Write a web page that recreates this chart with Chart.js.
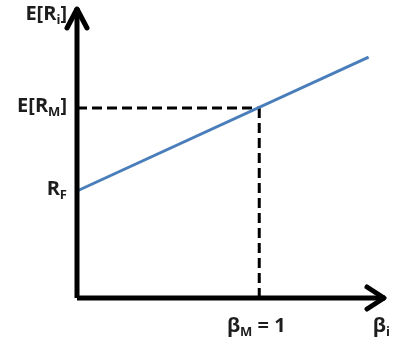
<!DOCTYPE html>
<html>
<head>
<meta charset="utf-8">
<script src="https://cdn.jsdelivr.net/npm/chart.js@4"></script>
<style>
  html, body { margin: 0; padding: 0; background: #fff; }
  #wrap { width: 394px; height: 345px; }
</style>
</head>
<body>
<div id="wrap"><canvas id="smlChart"></canvas></div>
<script>
// values
const riskFree = 4;
const marketReturn = 7.1;
const marketBeta = 1;
const lineBetas = [0, 1.6];
const lineReturns = [4, 9.0];
const xMax = 1.69;
const yMax = 10.84;

// axis labels: [main, subscript, tail]
const yLabelValues = [riskFree, marketReturn, yMax];
const yLabels = [["R", "F", ""], ["E[R", "M", "]"], ["E[R", "i", "]"]];
const xLabelValues = [marketBeta, xMax];
const xLabels = [["\u03b2", "M", " = 1"], ["\u03b2", "i", ""]];

const mainFont = "bold 20px 'Open Sans', 'Liberation Sans', sans-serif";
const subFont = "bold 13px 'Open Sans', 'Liberation Sans', sans-serif";
const textColor = "#1d1d1d";

function richWidth(ctx, parts) {
  ctx.font = mainFont;
  let w = ctx.measureText(parts[0]).width + ctx.measureText(parts[2]).width;
  ctx.font = subFont;
  return w + ctx.measureText(parts[1]).width;
}

function drawRich(ctx, parts, x, y) {
  ctx.textBaseline = "middle";
  ctx.textAlign = "left";
  ctx.fillStyle = textColor;
  ctx.font = mainFont;
  ctx.fillText(parts[0], x, y);
  x += ctx.measureText(parts[0]).width;
  ctx.font = subFont;
  ctx.fillText(parts[1], x, y + 6);
  x += ctx.measureText(parts[1]).width;
  ctx.font = mainFont;
  ctx.fillText(parts[2], x, y);
}

const axisDecor = {
  id: "axisDecor",
  afterDatasetsDraw(chart) {
    const ctx = chart.ctx;
    const xs = chart.scales.x, ys = chart.scales.y;
    const x0 = xs.getPixelForValue(0), y0 = ys.getPixelForValue(0);
    const xEnd = xs.getPixelForValue(xMax), yTop = ys.getPixelForValue(yMax);
    ctx.save();
    ctx.strokeStyle = "#000";
    ctx.lineWidth = 5;
    ctx.lineCap = "round";
    ctx.lineJoin = "round";
    // arrow heads
    ctx.beginPath();
    ctx.moveTo(x0 - 10, yTop + 20);
    ctx.lineTo(x0, yTop + 1);
    ctx.lineTo(x0 + 10, yTop + 20);
    ctx.stroke();
    ctx.beginPath();
    ctx.moveTo(xEnd - 18, y0 - 11);
    ctx.lineTo(xEnd - 1, y0);
    ctx.lineTo(xEnd - 18, y0 + 11);
    ctx.stroke();

    // y labels
    yLabelValues.forEach((v, i) => {
      const parts = yLabels[i];
      const w = richWidth(ctx, parts);
      let py = ys.getPixelForValue(v);
      if (i === 2) py += 8;
      drawRich(ctx, parts, x0 - 10 - w, py - 2);
    });
    // x labels
    xLabelValues.forEach((v, i) => {
      const parts = xLabels[i];
      const w = richWidth(ctx, parts);
      const px = xs.getPixelForValue(v);
      const left = i === 0 ? px - w / 2 - 3 : px - w + 5;
      drawRich(ctx, parts, left, y0 + 28);
    });
    ctx.restore();
  }
};

new Chart(document.getElementById("smlChart"), {
  type: "line",
  data: {
    datasets: [
      {
        // y axis
        data: [{ x: 0, y: 0 }, { x: 0, y: yMax }],
        borderColor: "#000",
        borderWidth: 5,
        pointRadius: 0,
        clip: false,
      },
      {
        // x axis
        data: [{ x: 0, y: 0 }, { x: xMax, y: 0 }],
        borderColor: "#000",
        borderWidth: 5,
        pointRadius: 0,
        clip: false,
      },
      {
        // security market line
        data: lineBetas.map((b, i) => ({ x: b, y: lineReturns[i] })),
        borderColor: "#4a7ebb",
        borderWidth: 3,
        pointRadius: 0,
        clip: false,
      },
      {
        data: [{ x: 0, y: marketReturn }, { x: marketBeta, y: marketReturn }],
        borderColor: "#000",
        borderWidth: 3,
        borderDash: [10, 5],
        pointRadius: 0,
        clip: false,
      },
      {
        data: [{ x: marketBeta, y: marketReturn }, { x: marketBeta, y: 0 }],
        borderColor: "#000",
        borderWidth: 3,
        borderDash: [10, 5],
        pointRadius: 0,
        clip: false,
      },
    ],
  },
  options: {
    responsive: true,
    maintainAspectRatio: false,
    animation: false,
    layout: { padding: { left: 77, right: 9, top: 8, bottom: 47 } },
    scales: {
      x: { type: "linear", min: 0, max: xMax, display: false },
      y: { type: "linear", min: 0, max: yMax, display: false },
    },
    plugins: { legend: { display: false }, tooltip: { enabled: false } },
  },
  plugins: [axisDecor],
});
</script>
</body>
</html>
